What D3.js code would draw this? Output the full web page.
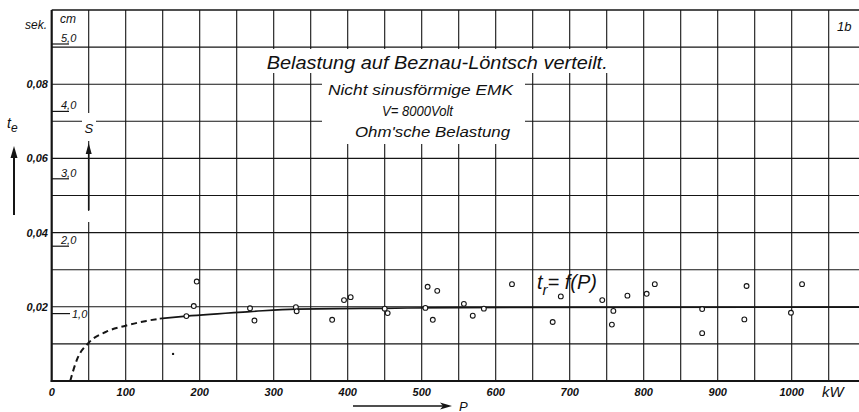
<!DOCTYPE html>
<html><head><meta charset="utf-8">
<script src="https://cdn.jsdelivr.net/npm/d3@7"></script>
<style>
html,body{margin:0;padding:0;background:#fff;}
svg{display:block;}
text{font-family:"Liberation Sans","DejaVu Sans",sans-serif;font-style:italic;fill:#111;}
</style></head>
<body>
<svg id="chart" width="859" height="412"></svg>
<script>
// ---- data ----
const measP = [182,192,196,268,274,330,331,379,395,404,450,454,505,508,521,515,557,569,584,622,677,688,744,757,759,778,804,815,879,879,936,939,999,1014];
const measT = [0.0175,0.0202,0.0268,0.0196,0.0163,0.0199,0.0188,0.0165,0.0218,0.0226,0.0195,0.0183,0.0197,0.0254,0.0243,0.0165,0.0208,0.0176,0.0195,0.0261,0.0159,0.0228,0.0218,0.0152,0.0189,0.0230,0.0235,0.0261,0.0194,0.0129,0.0166,0.0256,0.0184,0.0261];
const dashP = [25,34,50,74,100,128,146];
const dashT = [0,0.0057,0.0103,0.0133,0.0149,0.0162,0.0168];
const solidP = [146,182,268,330,449,552,1095];
const solidT = [0.0168,0.0175,0.0187,0.0194,0.0196,0.0198,0.0199];
const speckP = [164];
const speckT = [0.0073];
const xTicks = [0,100,200,300,400,500,600,700,800,900,1000];
const xTickLabels = ["0","100","200","300","400","500","600","700","800","900","1000"];
const yTicks = [0.02,0.04,0.06,0.08];
const yTickLabels = ["0,02","0,04","0,06","0,08"];
const cmTicks = [1,2,3,4,5];
const cmTickLabels = ["1,0","2,0","3,0","4,0","5,0"];
const titleText = "Belastung auf Beznau-Löntsch verteilt.";
const subLines = ["Nicht sinusförmige EMK","V= 8000Volt","Ohm'sche Belastung"];

// ---- scales ----
const x = d3.scaleLinear().domain([0,1000]).range([51.7,791.7]);
const y = d3.scaleLinear().domain([0,0.1]).range([381,10]);
const yCm = d3.scaleLinear().domain([0,5]).range([381,44]);
const svg = d3.select("#chart");
const ink = "#151515";
const xMax = x.invert(859);

// grid
const g = svg.append("g");
g.selectAll("line.v").data(d3.range(50,xMax,50)).join("line")
  .attr("x1",d=>x(d)).attr("x2",d=>x(d)).attr("y1",y(0.1)).attr("y2",y(0))
  .attr("stroke",ink).attr("stroke-width",1.1);
g.selectAll("line.h").data(d3.range(1,10).map(i=>i/100)).join("line")
  .attr("x1",x(0)).attr("x2",859).attr("y1",d=>y(d)).attr("y2",d=>y(d))
  .attr("stroke",ink).attr("stroke-width",1.1);

// white boxes behind texts
svg.append("rect").attr("x",250).attr("y",49).attr("width",368).attr("height",24).attr("fill","#fff");
svg.append("rect").attr("x",322).attr("y",73).attr("width",203).attr("height",71).attr("fill","#fff");
svg.append("rect").attr("x",82).attr("y",113).attr("width",14).attr("height",28).attr("fill","#fff");
svg.append("rect").attr("x",86).attr("y",211).attr("width",6).attr("height",11).attr("fill","#fff");

// frame
svg.append("line").attr("x1",x(0)).attr("x2",859).attr("y1",y(0.1)).attr("y2",y(0.1)).attr("stroke",ink).attr("stroke-width",1.6);
svg.append("line").attr("x1",x(0)).attr("x2",x(0)).attr("y1",y(0.1)).attr("y2",y(0)+1).attr("stroke",ink).attr("stroke-width",2.2);
svg.append("line").attr("x1",x(0)-1).attr("x2",859).attr("y1",y(0)).attr("y2",y(0)).attr("stroke",ink).attr("stroke-width",2.2);

// x axis labels
svg.selectAll("text.xl").data(xTicks).join("text")
  .attr("x",d=>x(d)).attr("y",396).attr("text-anchor","middle")
  .attr("font-size",11).attr("font-weight","bold").text((d,i)=>xTickLabels[i]);
svg.append("text").attr("x",822).attr("y",397).attr("font-size",15).text("kW");
// P arrow
svg.append("line").attr("x1",353).attr("x2",448).attr("y1",406).attr("y2",406).attr("stroke",ink).attr("stroke-width",1.4);
svg.append("path").attr("d","M452,406 L440,402.5 L443,406 L440,409.5 Z").attr("fill",ink);
svg.append("text").attr("x",459).attr("y",410.5).attr("font-size",13).text("P");

// y axis labels (seconds)
svg.selectAll("text.yl").data(yTicks).join("text")
  .attr("x",48).attr("y",d=>y(d)+4).attr("text-anchor","end")
  .attr("font-size",11).attr("font-weight","bold").text((d,i)=>yTickLabels[i]);
svg.append("text").attr("x",25).attr("y",29).attr("font-size",12).text("sek.");
svg.append("text").attr("x",60).attr("y",23).attr("font-size",12).text("cm");

// cm scale
svg.selectAll("line.cm").data(cmTicks).join("line")
  .attr("x1",x(0)).attr("x2",d=>d===1?70:69).attr("y1",d=>yCm(d)).attr("y2",d=>yCm(d))
  .attr("stroke",ink).attr("stroke-width",1.2);
svg.selectAll("text.cm").data(cmTicks).join("text")
  .attr("x",d=>d===1?72:61).attr("y",d=>d===1?yCm(d)+4.5:yCm(d)-2)
  .attr("font-size",11).text((d,i)=>cmTickLabels[i]);

// t_e label and arrow
const te = svg.append("text").attr("x",7).attr("y",128).attr("font-size",14);
te.append("tspan").text("t");
te.append("tspan").attr("dy",4).attr("font-size",12).text("e");
svg.append("line").attr("x1",14).attr("x2",14).attr("y1",155).attr("y2",215).attr("stroke",ink).attr("stroke-width",2);
svg.append("path").attr("d","M14,146 L10.5,158 L17.5,158 Z").attr("fill",ink);
// S label and arrow
svg.append("text").attr("x",84.5).attr("y",133).attr("font-size",13).text("S");
svg.append("line").attr("x1",x(50)).attr("x2",x(50)).attr("y1",150).attr("y2",210).attr("stroke",ink).attr("stroke-width",1.6);
svg.append("path").attr("d",`M${x(50)},143 L${x(50)-3},154 L${x(50)+3},154 Z`).attr("fill",ink);

// title texts
svg.append("text").attr("x",266.7).attr("y",69).attr("font-size",17.5)
  .attr("textLength",341).attr("lengthAdjust","spacingAndGlyphs").text(titleText);
const subX=[328,382,355], subY=[95,116,137], subL=[185,71,155], subF=[15,14,15];
subLines.forEach((s,i)=>{
  svg.append("text").attr("x",subX[i]).attr("y",subY[i]).attr("font-size",subF[i])
    .attr("textLength",subL[i]).attr("lengthAdjust","spacingAndGlyphs").text(s);
});
svg.append("text").attr("x",837).attr("y",31).attr("font-size",13).text("1b");

// curve
const line = d3.line().x(d=>x(d[0])).y(d=>y(d[1])).curve(d3.curveMonotoneX);
svg.append("path").attr("d",line(dashP.map((p,i)=>[p,dashT[i]])))
  .attr("fill","none").attr("stroke",ink).attr("stroke-width",2).attr("stroke-dasharray","6,4");
svg.append("path").attr("d",line(solidP.map((p,i)=>[p,solidT[i]])))
  .attr("fill","none").attr("stroke",ink).attr("stroke-width",1.7);

// t_r = f(P) label
const tr = svg.append("text").attr("x",537).attr("y",289).attr("font-size",20);
tr.append("tspan").text("t");
tr.append("tspan").attr("dy",6).attr("font-size",15).text("r");
tr.append("tspan").attr("dy",-6).text("= f(P)");

// measured points
svg.selectAll("circle.m").data(measP).join("circle")
  .attr("cx",d=>x(d)).attr("cy",(d,i)=>y(measT[i])).attr("r",2.4)
  .attr("fill","#fff").attr("stroke",ink).attr("stroke-width",1.1);
svg.selectAll("circle.s").data(speckP).join("circle")
  .attr("cx",d=>x(d)).attr("cy",(d,i)=>y(speckT[i])).attr("r",1.2).attr("fill",ink);
</script>
</body></html>
